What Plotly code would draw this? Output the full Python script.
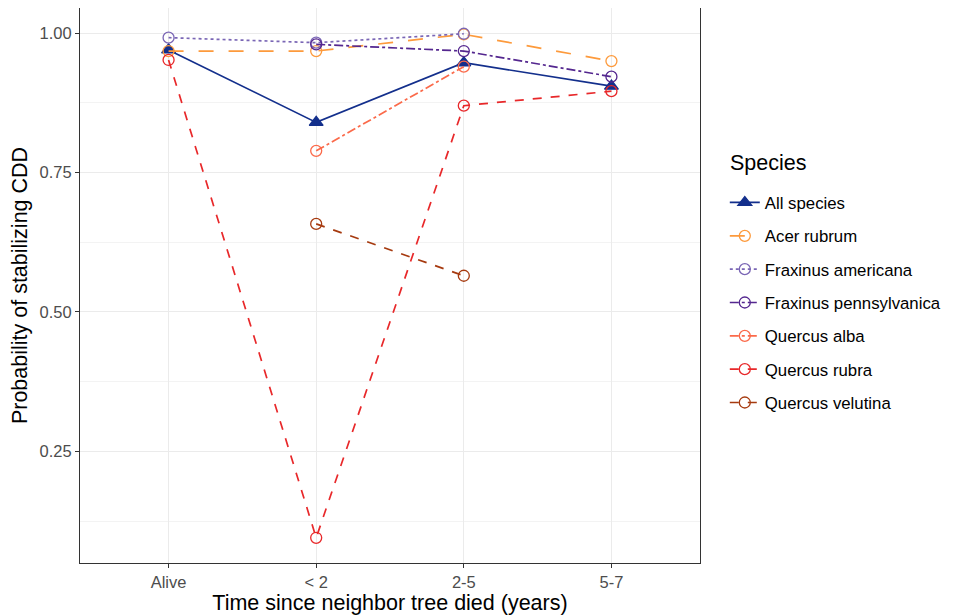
import plotly.graph_objects as go

categories = ["Alive", "< 2", "2-5", "5-7"]

species = ["All species", "Acer rubrum", "Fraxinus americana", "Fraxinus pennsylvanica",
           "Quercus alba", "Quercus rubra", "Quercus velutina"]

all_species = [0.970, 0.840, 0.947, 0.905]
acer_rubrum = [0.968, 0.968, 0.998, 0.950]
fraxinus_americana = [0.992, 0.983, 0.999, None]
fraxinus_pennsylvanica = [None, 0.980, 0.968, 0.922]
quercus_alba = [None, 0.789, 0.940, None]
quercus_rubra = [0.952, 0.095, 0.870, 0.896]
quercus_velutina = [None, 0.658, 0.565, None]

values = [all_species, acer_rubrum, fraxinus_americana, fraxinus_pennsylvanica,
          quercus_alba, quercus_rubra, quercus_velutina]
colors = ["#132F8C", "#FD9A3C", "#7A66B5", "#54278F", "#FB6A4A", "#E8282A", "#A63A0F"]
dashes = ["solid", "longdash", "dot", "dashdot", "dashdot", "dash", "dash"]
symbols = ["triangle-up", "circle-open", "circle-open", "circle-open", "circle-open", "circle-open", "circle-open"]

fig = go.Figure()
for i, (name, vals) in enumerate(zip(species, values)):
    xs = [c for c, v in zip(categories, vals) if v is not None]
    ys = [v for v in vals if v is not None]
    tri = symbols[i] == "triangle-up"
    fig.add_trace(go.Scatter(
        x=xs, y=ys, name=name, mode="lines+markers",
        legendgroup=name,
        line=dict(color=colors[i], dash=dashes[i], width=1.7),
        marker=dict(symbol=symbols[i], size=12 if tri else 11, color=colors[i],
                    line=dict(width=1.3, color=colors[i])),
    ))

# page has an 8px body margin: figure is 946x607 so that the plot area lands where the reference has it
fig.update_layout(
    width=946, height=607,
    margin=dict(l=72, r=254, t=0, b=52),
    paper_bgcolor="white", plot_bgcolor="white",
    font=dict(family="Liberation Sans, Arial, sans-serif", color="#000000"),
    showlegend=True,
    legend=dict(
        x=1.04, xanchor="left", y=0.681, yanchor="top",
        font=dict(size=16.8, color="#000000"),
        tracegroupgap=8.5,
        bgcolor="rgba(0,0,0,0)",
    ),
    annotations=[dict(
        text="Species", xref="paper", yref="paper", x=1.045, y=0.7207,
        xanchor="left", yanchor="middle", showarrow=False,
        font=dict(size=21.5, color="#000000"),
    )],
    xaxis=dict(
        type="category", categoryorder="array", categoryarray=categories,
        range=[-0.6, 3.6],
        showgrid=True, gridcolor="#EBEBEB", gridwidth=1.1,
        ticks="outside", ticklen=4, tickcolor="#333333", tickwidth=1,
        tickfont=dict(size=16.5, color="#4D4D4D"),
        showline=True, linecolor="#333333", linewidth=1, mirror=True,
        zeroline=False, automargin=False,
        title=dict(text="Time since neighbor tree died (years)", font=dict(size=21.5, color="#000000"), standoff=2),
    ),
    yaxis=dict(
        range=[0.0498, 1.0452],
        tickvals=[0.25, 0.5, 0.75, 1.0], ticktext=["0.25", "0.50", "0.75", "1.00"],
        showgrid=True, gridcolor="#EBEBEB", gridwidth=1.1,
        minor=dict(tickvals=[0.125, 0.375, 0.625, 0.875], showgrid=True, gridcolor="#F3F3F3", gridwidth=0.6, ticks=""),
        ticks="outside", ticklen=4, tickcolor="#333333", tickwidth=1,
        tickfont=dict(size=16.5, color="#4D4D4D"),
        showline=True, linecolor="#333333", linewidth=1, mirror=True,
        zeroline=False, automargin=False,
        title=dict(text="Probability of stabilizing CDD", font=dict(size=21.5, color="#000000"), standoff=6),
    ),
)

fig.write_html("out.html")
